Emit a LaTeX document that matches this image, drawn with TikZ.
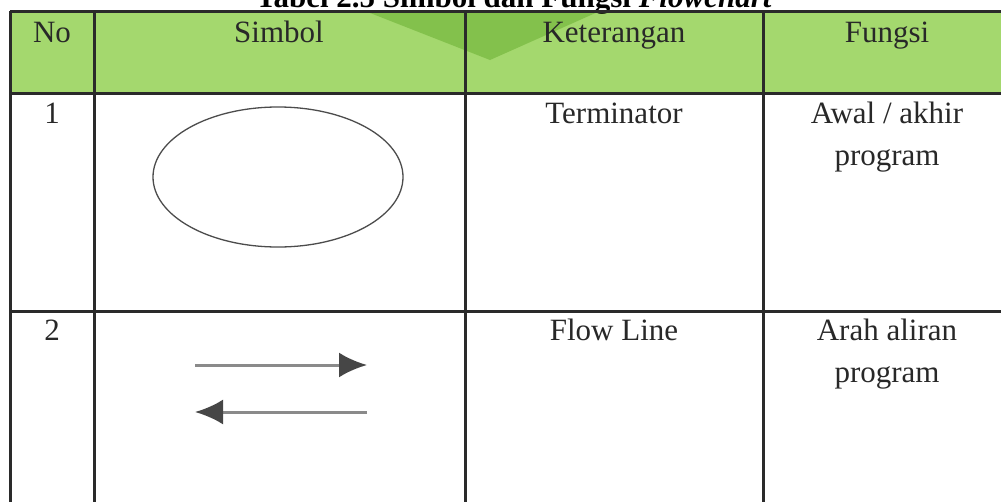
\documentclass[tikz,border=0pt]{standalone}
\usepackage{fontspec}
\setmainfont{Liberation Serif}
\usetikzlibrary{arrows.meta,shapes.geometric,positioning}
\definecolor{headgreen}{RGB}{164,216,110}
\definecolor{markgreen}{RGB}{118,184,62}
\definecolor{rule}{RGB}{42,42,42}
\definecolor{ink}{RGB}{40,40,40}
\definecolor{flowgray}{RGB}{138,138,138}
\definecolor{tipgray}{RGB}{70,70,70}
\tikzset{
    cell/.style={inner sep=0pt, anchor=base, align=center, text=ink,
                 font=\fontsize{31}{42}\selectfont},
    grid/.style={line width=3pt, draw=rule},
    flow/.style={-{Latex[length=28pt, width=25pt, color=tipgray]}, line width=3pt, flowgray}
}

\begin{document}
\begin{tikzpicture}[x=1pt, y=-1pt]
    \useasboundingbox (0,0) rectangle (1001,501);
    \clip (0,0) rectangle (1001,501);

    % Header band
    \fill[headgreen] (10,11) rectangle (1011,93);
    % Watermark
    \fill[markgreen, opacity=0.7] (365,11) -- (490,60) -- (600,11) -- cycle;

    % Title
    \node[cell, font=\fontsize{31}{42}\selectfont\bfseries, text=black] (title) at (514,7)
        {Tabel 2.5 Simbol dan Fungsi \textit{Flowchart}};

    % Grid
    \foreach \x in {10,94,465,763}
        \draw[grid] (\x,11) -- (\x,510);
    \foreach \y in {11,93,311}
        \draw[grid] (10,\y) -- (1011,\y);

    % Header
    \node[cell] (hno) at (52,42) {No};
    \node[cell] (hsym) at (279,42) {Simbol};
    \node[cell] (hket) at (614,42) {Keterangan};
    \node[cell] (hfun) at (887,42) {Fungsi};

    % Row 1 (base of a two-line cell is its last line)
    \node[cell] (no1) at (52,123) {1};
    \node[draw=black!70, line width=1.3pt, ellipse, minimum width=250pt,
          minimum height=140pt, inner sep=0pt] (term) at (278,177) {};
    \node[cell] (ket1) at (614,123) {Terminator};
    \node[cell] (fun1) at (887,165) {Awal / akhir\\program};

    % Row 2
    \node[cell] (no2) at (52,340) {2};
    \coordinate (fa) at (195,365);
    \coordinate (fb) at (367,365);
    \coordinate (fc) at (367,412);
    \coordinate (fd) at (195,412);
    \draw[flow] (fa) -- (fb);
    \draw[flow] (fc) -- (fd);
    \node[cell] (ket2) at (614,340) {Flow Line};
    \node[cell] (fun2) at (887,382) {Arah aliran\\program};
\end{tikzpicture}
\end{document}
